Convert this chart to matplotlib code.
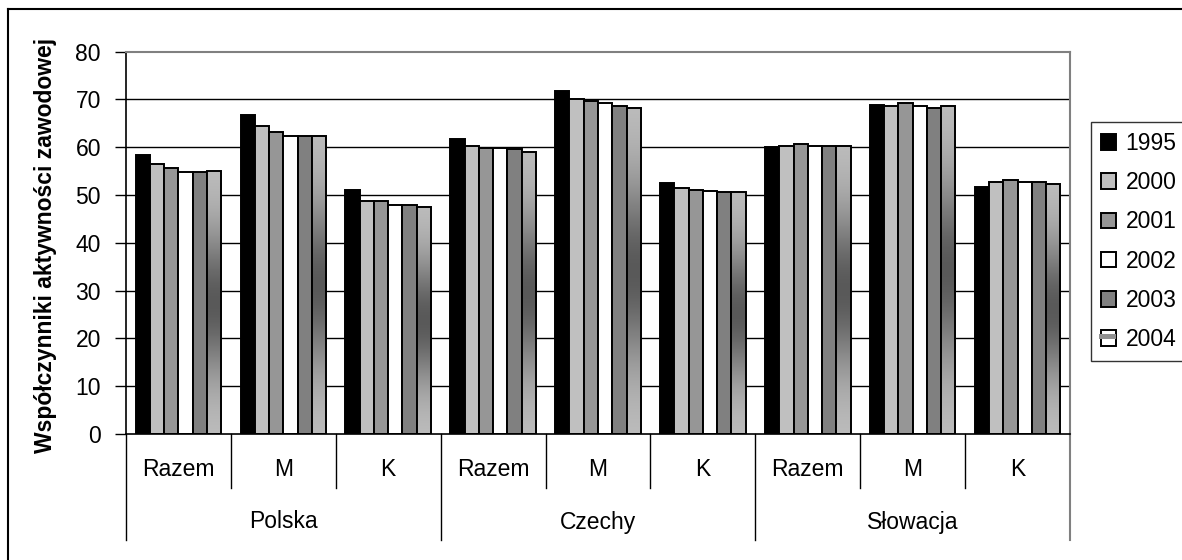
import numpy as np
import matplotlib
matplotlib.use("Agg")
import matplotlib.pyplot as plt
from matplotlib.patches import Patch, Rectangle
from matplotlib.lines import Line2D
from matplotlib.legend_handler import HandlerBase
import matplotlib.transforms as mtrans

plt.rcParams['font.family'] = ['Liberation Sans', 'DejaVu Sans']

countries = ['Polska', 'Czechy', 'Słowacja']
groups = ['Razem', 'M', 'K']
years = ['1995', '2000', '2001', '2002', '2003', '2004']

v1995 = [58.3, 66.7, 51.1, 61.7, 71.7, 52.5, 60.0, 68.8, 51.6]
v2000 = [56.5, 64.5, 48.8, 60.3, 70.0, 51.5, 60.3, 68.7, 52.7]
v2001 = [55.6, 63.3, 48.8, 59.9, 69.6, 51.0, 60.7, 69.2, 53.1]
v2002 = [54.9, 62.4, 48.0, 59.9, 69.2, 50.9, 60.3, 68.7, 52.7]
v2003 = [54.9, 62.4, 48.0, 59.6, 68.7, 50.6, 60.3, 68.2, 52.7]
v2004 = [55.0, 62.4, 47.6, 59.1, 68.3, 50.6, 60.3, 68.7, 52.4]
series = [v1995, v2000, v2001, v2002, v2003, v2004]

colors = ['#000000', '#C0C0C0', '#969696', '#FFFFFF', '#808080', None]
ylabel = 'Współczynniki aktywności zawodowej'

W, H = 1182, 560
fig = plt.figure(figsize=(W / 100, H / 100), dpi=100)
ax_l, ax_r, ax_t, ax_b = 126, 1070, 51.7, 434
ax = fig.add_axes([ax_l / W, 1 - ax_b / H, (ax_r - ax_l) / W, (ax_b - ax_t) / H])

ncat = len(countries) * len(groups)
x = np.arange(ncat)
bw = 0.136
fs = 16.5

for i, (vals, c) in enumerate(zip(series, colors)):
    xs = x - 3 * bw + bw / 2 + i * bw
    if c is None:
        bars = ax.bar(xs, vals, width=bw, facecolor='none', edgecolor='black',
                      linewidth=1.4, zorder=4)
        for b in bars:
            bx, by = b.get_x(), b.get_y()
            bh = b.get_height()
            t = np.linspace(0, 1, 200)
            g = 0.75 - 0.4 * np.exp(-((t - 0.5) / 0.28) ** 2)
            img = np.stack([g, g, g], axis=-1).reshape(200, 1, 3)
            ax.imshow(img, extent=[bx, bx + bw, by, by + bh], aspect='auto',
                      origin='lower', zorder=3, interpolation='bilinear')
    else:
        ax.bar(xs, vals, width=bw, color=c, edgecolor='black',
               linewidth=1.4, zorder=3)

ax.set_xlim(-0.5, ncat - 0.5)
ax.set_ylim(0, 80)
ax.set_yticks(np.arange(0, 81, 10))
ax.tick_params(axis='y', length=8, width=1, direction='out', pad=10, labelsize=fs)
ax.set_xticks([])
for yv in range(10, 80, 10):
    ax.axhline(yv, color='black', linewidth=1, zorder=1)

for s in ['left', 'bottom']:
    ax.spines[s].set_color('black')
    ax.spines[s].set_linewidth(1.2)
for s in ['top', 'right']:
    ax.spines[s].set_color('#808080')
    ax.spines[s].set_linewidth(1.5)
ax.spines['bottom'].set_zorder(6)

ax.set_ylabel(ylabel, fontsize=16.5, fontweight='bold', labelpad=0)
ax.yaxis.set_label_coords((46 - ax_l) / (ax_r - ax_l), (ax_b - 245) / (ax_b - ax_t))
ax.yaxis.label.set_va('center')

axh = ax_b - ax_t
trans = mtrans.blended_transform_factory(ax.transData, ax.transAxes)
short = -(488 - ax_b) / axh
long_ = -(540 - ax_b) / axh
for k in range(ncat + 1):
    xb = k - 0.5
    if k % 3 == 0:
        col = '#808080' if k == ncat else 'black'
        ax.add_line(Line2D([xb, xb], [0, long_], transform=trans, color=col,
                           linewidth=1.5 if k == ncat else 1, clip_on=False))
    else:
        ax.add_line(Line2D([xb, xb], [0, short], transform=trans, color='black',
                           linewidth=1, clip_on=False))
for k in range(ncat):
    ax.text(k, -(470 - ax_b) / axh, groups[k % 3], transform=trans,
            ha='center', va='center', fontsize=fs)
for j, cn in enumerate(countries):
    ax.text(3 * j + 1, -(522 - ax_b) / axh, cn, transform=trans,
            ha='center', va='center', fontsize=fs)


class GradHandler(HandlerBase):
    def create_artists(self, legend, orig_handle, xdescent, ydescent, width,
                       height, fontsize, trans):
        r1 = Rectangle((-xdescent, -ydescent), width, height, facecolor='white',
                       edgecolor='black', linewidth=1.4, transform=trans)
        r2 = Rectangle((-xdescent - 1, -ydescent + height * 0.45), width + 1,
                       height * 0.3, facecolor='#909090', edgecolor='none',
                       transform=trans)
        return [r1, r2]


handles = [Patch(facecolor=c, edgecolor='black', linewidth=1.4) for c in colors[:5]]
grad_h = Patch(facecolor='white', edgecolor='black')
handles.append(grad_h)
leg = fig.legend(handles, years, loc='upper left',
                 bbox_to_anchor=(1091 / W, 1 - 122 / H), borderaxespad=0,
                 frameon=True, fancybox=False, edgecolor='black', fontsize=fs,
                 handlelength=0.66, handleheight=0.66, labelspacing=0.71,
                 handletextpad=0.42, borderpad=0.43,
                 handler_map={grad_h: GradHandler()})
leg.get_frame().set_linewidth(1.0)

fig.add_artist(Line2D([8 / W, 1.0], [1 - 9 / H, 1 - 9 / H], transform=fig.transFigure,
                      color='black', linewidth=1.5))
fig.add_artist(Line2D([8 / W, 8 / W], [0, 1 - 9 / H], transform=fig.transFigure,
                      color='black', linewidth=1.5))

fig.savefig('out.png', dpi=100)
